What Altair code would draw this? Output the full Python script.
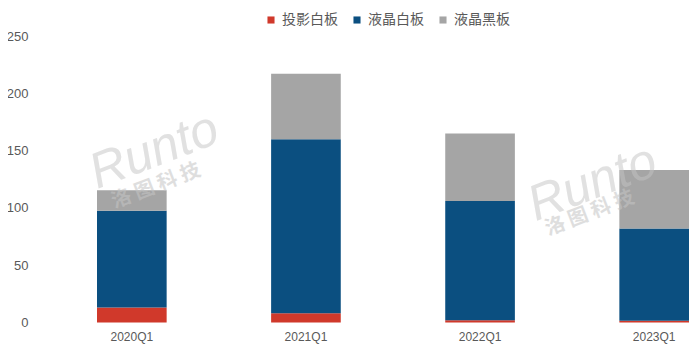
import altair as alt
import pandas as pd

quarters = ["2020Q1", "2021Q1", "2022Q1", "2023Q1"]
series = ["投影白板", "液晶白板", "液晶黑板"]
proj_white = [13, 8, 2, 1.5]
lcd_white = [84.5, 152, 104, 80.5]
lcd_black = [18, 57, 59, 51]
colors = ["#D0392B", "#0B4F80", "#A5A5A5"]
y_ticks = [0, 50, 100, 150, 200, 250]

rows = []
for i, q in enumerate(quarters):
    for j, (s, vals) in enumerate(zip(series, [proj_white, lcd_white, lcd_black])):
        rows.append({"季度": q, "类别": s, "值": vals[i], "顺序": j})
df = pd.DataFrame(rows)

wm_logo = ["Runto"]
wm_cn = ["洛 图 科 技"]

FONT = "Liberation Sans"
CJK = "Noto Sans CJK SC"

x_enc = alt.X("季度:N", sort=quarters, title=None,
              scale=alt.Scale(paddingInner=0.6, paddingOuter=0.0),
              axis=alt.Axis(labelAngle=0, ticks=False, domain=False, labelPadding=9,
                            labelFontSize=12, labelColor="#595959", labelFont=FONT))

bars = alt.Chart(df).mark_bar().encode(
    x=x_enc,
    y=alt.Y("sum(值):Q", title=None,
            scale=alt.Scale(domain=[0, 250], nice=False),
            axis=alt.Axis(values=y_ticks, grid=False, ticks=False, domain=False,
                          labelPadding=69, labelFontSize=13, labelColor="#595959",
                          labelFont=FONT)),
    color=alt.Color("类别:N", sort=series,
                    scale=alt.Scale(domain=series, range=colors),
                    legend=alt.Legend(title=None, orient="none", direction="horizontal",
                                      legendX=167, legendY=-23, symbolType="square",
                                      symbolSize=50, labelFontSize=14,
                                      labelColor="#595959", labelFont=CJK,
                                      columnPadding=12, symbolStrokeWidth=0,
                                      padding=0, labelOffset=4)),
    order=alt.Order("顺序:Q", sort="ascending"),
)


def watermark(quarter, y_logo, y_cn, dx_logo, dx_cn):
    d = pd.DataFrame({"季度": [quarter], "y_logo": [y_logo], "y_cn": [y_cn],
                      "logo": wm_logo, "cn": wm_cn})
    logo = alt.Chart(d).mark_text(
        font=FONT, fontSize=50, fontStyle="italic", angle=339, color="#C4C4C4",
        opacity=0.5, dx=dx_logo,
    ).encode(x=alt.X("季度:N", sort=quarters), y=alt.Y("y_logo:Q"), text="logo:N")
    cn = alt.Chart(d).mark_text(
        font=CJK, fontSize=20, fontWeight="bold", angle=339,
        color="#C4C4C4", opacity=0.55, dx=dx_cn,
    ).encode(x=alt.X("季度:N", sort=quarters), y=alt.Y("y_cn:Q"), text="cn:N")
    return [logo, cn]


layers = [bars] + watermark("2020Q1", 142, 111, 24, 26) + watermark("2023Q1", 142, 117, -66, -69)

chart = alt.layer(*layers).properties(
    width=592, height=286.5,
    autosize=alt.AutoSizeParams(type="none"),
    padding={"left": 89, "top": 28, "right": 0, "bottom": 28},
).configure(background="white").configure_view(stroke=None)

chart.save("out.html", embed_options={"renderer": "svg", "actions": False})
